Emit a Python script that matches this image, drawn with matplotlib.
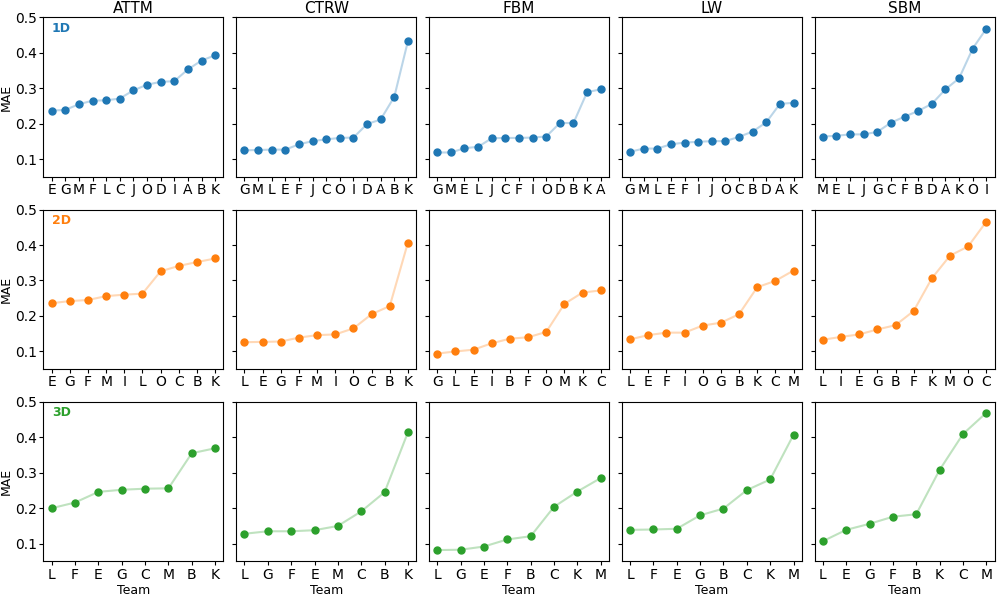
import matplotlib
matplotlib.use("Agg")
import matplotlib.pyplot as plt

models = ["ATTM", "CTRW", "FBM", "LW", "SBM"]
dims = ["1D", "2D", "3D"]
colors = ["tab:blue", "tab:orange", "tab:green"]

# 1D
teams_1d = {
    "ATTM": list("EGMFLCJODIABK"),
    "CTRW": list("GMLEFJCOIDABK"),
    "FBM": list("GMELJCFIODBKA"),
    "LW": list("GMLEFIJOCBDAK"),
    "SBM": list("MELJGCFBDAKOI"),
}
mae_1d = {
    "ATTM": [0.237, 0.239, 0.255, 0.265, 0.266, 0.271, 0.294, 0.310, 0.318, 0.320, 0.353, 0.378, 0.393],
    "CTRW": [0.125, 0.126, 0.127, 0.127, 0.142, 0.151, 0.156, 0.160, 0.161, 0.199, 0.212, 0.276, 0.433],
    "FBM": [0.119, 0.119, 0.131, 0.135, 0.159, 0.160, 0.160, 0.161, 0.164, 0.202, 0.202, 0.289, 0.297],
    "LW": [0.121, 0.130, 0.130, 0.142, 0.147, 0.149, 0.151, 0.151, 0.163, 0.178, 0.204, 0.256, 0.259],
    "SBM": [0.164, 0.166, 0.170, 0.170, 0.177, 0.203, 0.220, 0.236, 0.256, 0.297, 0.328, 0.412, 0.468],
}

# 2D
teams_2d = {
    "ATTM": list("EGFMILOCBK"),
    "CTRW": list("LEGFMIOCBK"),
    "FBM": list("GLEIBFOMKC"),
    "LW": list("LEFIOGBKCM"),
    "SBM": list("LIEGBFKMOC"),
}
mae_2d = {
    "ATTM": [0.236, 0.242, 0.245, 0.256, 0.260, 0.263, 0.326, 0.341, 0.352, 0.362],
    "CTRW": [0.126, 0.127, 0.128, 0.139, 0.146, 0.148, 0.165, 0.205, 0.228, 0.407],
    "FBM": [0.094, 0.100, 0.105, 0.123, 0.136, 0.140, 0.155, 0.234, 0.266, 0.272],
    "LW": [0.134, 0.146, 0.153, 0.153, 0.173, 0.181, 0.205, 0.281, 0.299, 0.328],
    "SBM": [0.133, 0.141, 0.148, 0.162, 0.174, 0.214, 0.306, 0.370, 0.396, 0.466],
}

# 3D
teams_3d = {
    "ATTM": list("LFEGCMBK"),
    "CTRW": list("LGFEMCBK"),
    "FBM": list("LGEFBCKM"),
    "LW": list("LFEGBCKM"),
    "SBM": list("LEGFBKCM"),
}
mae_3d = {
    "ATTM": [0.200, 0.216, 0.246, 0.252, 0.255, 0.256, 0.355, 0.369],
    "CTRW": [0.128, 0.135, 0.135, 0.138, 0.150, 0.191, 0.245, 0.414],
    "FBM": [0.082, 0.083, 0.092, 0.112, 0.121, 0.204, 0.247, 0.285],
    "LW": [0.139, 0.140, 0.142, 0.180, 0.199, 0.251, 0.281, 0.407],
    "SBM": [0.107, 0.139, 0.156, 0.176, 0.183, 0.308, 0.409, 0.469],
}

all_teams = [teams_1d, teams_2d, teams_3d]
all_mae = [mae_1d, mae_2d, mae_3d]

fig, axes = plt.subplots(3, 5, figsize=(9.97, 5.96), dpi=100, sharey=True)
fig.subplots_adjust(left=0.0436, right=0.9975, top=0.971, bottom=0.058,
                    wspace=0.072, hspace=0.204)

for r in range(3):
    for c, m in enumerate(models):
        ax = axes[r, c]
        t = all_teams[r][m]
        v = all_mae[r][m]
        ax.plot(t, v, "-", color=colors[r], alpha=0.3)
        ax.plot(t, v, "o", color=colors[r], markersize=5)
        ax.tick_params(labelsize=10, length=3, pad=1.5)
        if r == 0:
            ax.set_title(m, fontsize=11, pad=3.4)
        if r == 2:
            ax.set_xlabel("Team", fontsize=9, labelpad=1.5)
        if c == 0:
            ax.set_ylabel("MAE", fontsize=9, labelpad=2)
            ax.text(0.047, 0.973, dims[r], transform=ax.transAxes, color=colors[r],
                    fontsize=9, fontweight="bold", va="top", ha="left")

axes[0, 0].set_ylim(0.05, 0.5)
axes[0, 0].set_yticks([0.1, 0.2, 0.3, 0.4, 0.5])

fig.savefig("out.png", dpi=100)
